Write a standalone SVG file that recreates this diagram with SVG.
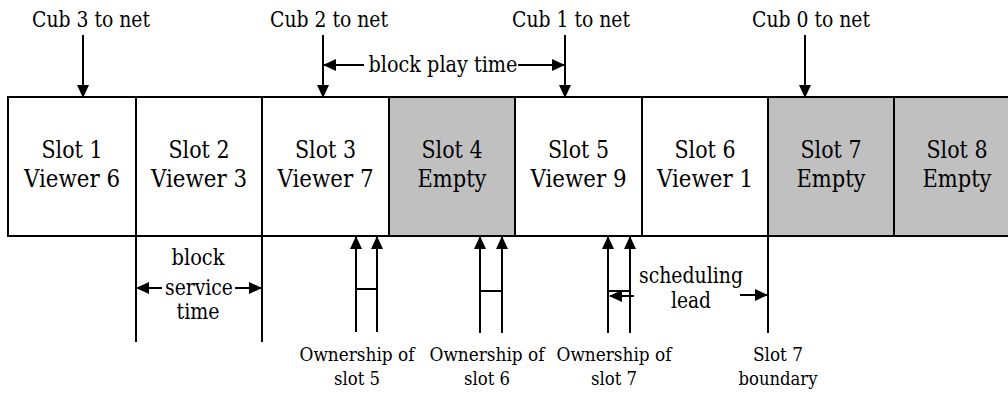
<svg xmlns="http://www.w3.org/2000/svg" width="1008" height="394" viewBox="0 0 1008 394">
<style>
text{fill:#000;text-anchor:middle;font-family:"DejaVu Serif Condensed","DejaVu Serif",serif;font-stretch:condensed}
.slot{font-size:23.5px}
.lbl{font-size:22px}
.sm{font-size:19px}
.box{stroke:#000;stroke-width:2}
.w{fill:#fff}
.g{fill:#c0c0c0}
.ln{stroke:#000;stroke-width:2;fill:none}
.arr{stroke:#000;stroke-width:2;fill:none;marker-end:url(#ah)}
</style>
<defs>
<marker id="ah" markerUnits="userSpaceOnUse" markerWidth="13" markerHeight="12" viewBox="0 0 13 12" refX="12" refY="6" orient="auto">
<path d="M0,0 L13,6 L0,12 z" fill="#000"/>
</marker>
</defs>
<rect width="1008" height="394" fill="#fff"/>
<g id="slot1"><rect class="box w" x="8" y="97" width="128" height="139"/><text class="slot" x="72" y="158" textLength="61" lengthAdjust="spacingAndGlyphs">Slot 1</text><text class="slot" x="72" y="187" textLength="96" lengthAdjust="spacingAndGlyphs">Viewer 6</text></g>
<g id="slot2"><rect class="box w" x="136" y="97" width="126" height="139"/><text class="slot" x="199" y="158" textLength="61" lengthAdjust="spacingAndGlyphs">Slot 2</text><text class="slot" x="199" y="187" textLength="96" lengthAdjust="spacingAndGlyphs">Viewer 3</text></g>
<g id="slot3"><rect class="box w" x="262" y="97" width="127" height="139"/><text class="slot" x="325.5" y="158" textLength="61" lengthAdjust="spacingAndGlyphs">Slot 3</text><text class="slot" x="325.5" y="187" textLength="96" lengthAdjust="spacingAndGlyphs">Viewer 7</text></g>
<g id="slot4"><rect class="box g" x="389" y="97" width="126" height="139"/><text class="slot" x="452" y="158" textLength="61" lengthAdjust="spacingAndGlyphs">Slot 4</text><text class="slot" x="452" y="187" textLength="69" lengthAdjust="spacingAndGlyphs">Empty</text></g>
<g id="slot5"><rect class="box w" x="515" y="97" width="127" height="139"/><text class="slot" x="578.5" y="158" textLength="61" lengthAdjust="spacingAndGlyphs">Slot 5</text><text class="slot" x="578.5" y="187" textLength="96" lengthAdjust="spacingAndGlyphs">Viewer 9</text></g>
<g id="slot6"><rect class="box w" x="642" y="97" width="126" height="139"/><text class="slot" x="705" y="158" textLength="61" lengthAdjust="spacingAndGlyphs">Slot 6</text><text class="slot" x="705" y="187" textLength="96" lengthAdjust="spacingAndGlyphs">Viewer 1</text></g>
<g id="slot7"><rect class="box g" x="768" y="97" width="126" height="139"/><text class="slot" x="831" y="158" textLength="61" lengthAdjust="spacingAndGlyphs">Slot 7</text><text class="slot" x="831" y="187" textLength="69" lengthAdjust="spacingAndGlyphs">Empty</text></g>
<g id="slot8"><rect class="box g" x="894" y="97" width="126" height="139"/><text class="slot" x="957" y="158" textLength="61" lengthAdjust="spacingAndGlyphs">Slot 8</text><text class="slot" x="957" y="187" textLength="69" lengthAdjust="spacingAndGlyphs">Empty</text></g>
<g id="labels">
<text class="lbl" x="91" y="27" textLength="118" lengthAdjust="spacingAndGlyphs">Cub 3 to net</text>
<text class="lbl" x="329" y="27" textLength="118" lengthAdjust="spacingAndGlyphs">Cub 2 to net</text>
<text class="lbl" x="571" y="27" textLength="118" lengthAdjust="spacingAndGlyphs">Cub 1 to net</text>
<text class="lbl" x="811" y="27" textLength="118" lengthAdjust="spacingAndGlyphs">Cub 0 to net</text>
<text class="lbl" x="443" y="72" textLength="149" lengthAdjust="spacingAndGlyphs">block play time</text>
<text class="lbl" x="198" y="265" textLength="53" lengthAdjust="spacingAndGlyphs">block</text>
<text class="lbl" x="199" y="295" textLength="68" lengthAdjust="spacingAndGlyphs">service</text>
<text class="lbl" x="198" y="319" textLength="43" lengthAdjust="spacingAndGlyphs">time</text>
<text class="lbl" x="691" y="283" textLength="104" lengthAdjust="spacingAndGlyphs">scheduling</text>
<text class="lbl" x="691" y="308" textLength="40" lengthAdjust="spacingAndGlyphs">lead</text>
<text class="sm" x="357" y="361" textLength="115" lengthAdjust="spacingAndGlyphs">Ownership of</text>
<text class="sm" x="357" y="385" textLength="46" lengthAdjust="spacingAndGlyphs">slot 5</text>
<text class="sm" x="487" y="361" textLength="115" lengthAdjust="spacingAndGlyphs">Ownership of</text>
<text class="sm" x="487" y="385" textLength="46" lengthAdjust="spacingAndGlyphs">slot 6</text>
<text class="sm" x="614" y="361" textLength="115" lengthAdjust="spacingAndGlyphs">Ownership of</text>
<text class="sm" x="614" y="385" textLength="46" lengthAdjust="spacingAndGlyphs">slot 7</text>
<text class="sm" x="778" y="361" textLength="50" lengthAdjust="spacingAndGlyphs">Slot 7</text>
<text class="sm" x="778" y="385" textLength="79" lengthAdjust="spacingAndGlyphs">boundary</text>
</g>
<g id="connectors">
<line class="arr" x1="83" y1="35" x2="83" y2="97"/>
<line class="arr" x1="323" y1="35" x2="323" y2="97"/>
<line class="arr" x1="565" y1="35" x2="565" y2="97"/>
<line class="arr" x1="805" y1="35" x2="805" y2="97"/>
<line class="arr" x1="364" y1="65" x2="324" y2="65"/>
<line class="arr" x1="518" y1="65" x2="564" y2="65"/>
<line class="ln" x1="136" y1="236" x2="136" y2="342"/>
<line class="ln" x1="262" y1="236" x2="262" y2="342"/>
<line class="arr" x1="162" y1="288" x2="137" y2="288"/>
<line class="arr" x1="235" y1="288" x2="261" y2="288"/>
<line class="arr" x1="356" y1="332" x2="356" y2="237"/>
<line class="arr" x1="377" y1="332" x2="377" y2="237"/>
<line class="ln" x1="356" y1="289" x2="377" y2="289"/>
<line class="arr" x1="480" y1="333" x2="480" y2="237"/>
<line class="arr" x1="502" y1="333" x2="502" y2="237"/>
<line class="ln" x1="480" y1="291" x2="502" y2="291"/>
<line class="arr" x1="608" y1="333" x2="608" y2="237"/>
<line class="arr" x1="630" y1="333" x2="630" y2="237"/>
<line class="ln" x1="608" y1="291" x2="630" y2="291"/>
<line class="arr" x1="634" y1="296" x2="610" y2="296"/>
<line class="ln" x1="768" y1="236" x2="768" y2="333"/>
<line class="arr" x1="740" y1="295" x2="767" y2="295"/>
</g>
</svg>
